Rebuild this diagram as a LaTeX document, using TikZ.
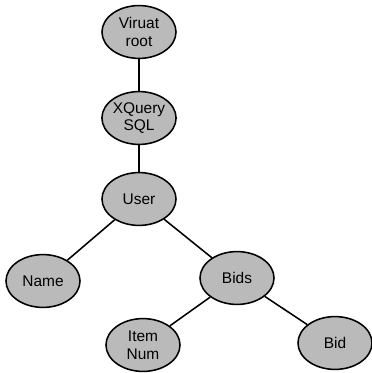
\documentclass[tikz,border=0pt]{standalone}
\usepackage{fontspec}
\setmainfont{Liberation Sans}
\usetikzlibrary{shapes.geometric}

\begin{document}
\begin{tikzpicture}[x=0.025cm,y=-0.025cm]
    \tikzstyle{tn}=[draw,ellipse,fill=black!27,line width=1.1pt,minimum width=1.85cm,minimum height=1.32cm,inner sep=0,align=center,font=\fontsize{11}{12.5}\selectfont]
    \tikzstyle{tl}=[line width=1.1pt]
    \useasboundingbox (0,0) rectangle (371,373);
    \path (139,32) node[tn] (root) {Viruat\\root};
    \path (139,118) node[tn] (xq) {XQuery\\SQL};
    \path (139,199) node[tn] (user) {User};
    \path (43,281) node[tn] (name) {Name};
    \path (237,278) node[tn] (bids) {Bids};
    \path (143,345) node[tn] (item) {Item\\Num};
    \path (335,343) node[tn] (bid) {Bid};
    \draw[tl] (root) -- (xq);
    \draw[tl] (xq) -- (user);
    \draw[tl] (user) -- (name);
    \draw[tl] (user) -- (bids);
    \draw[tl] (bids) -- (item);
    \draw[tl] (bids) -- (bid);
\end{tikzpicture}
\end{document}
